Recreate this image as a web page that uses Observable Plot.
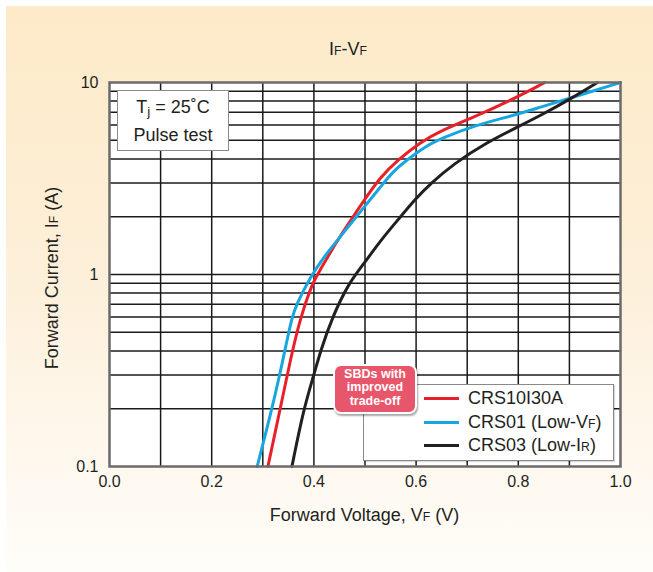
<!DOCTYPE html>
<html>
<head>
<meta charset="utf-8">
<script src="https://cdn.jsdelivr.net/npm/d3@7"></script>
<script src="https://cdn.jsdelivr.net/npm/@observablehq/plot@0.6"></script>
<style>
  html, body { margin: 0; padding: 0; background: #fff; }
  body { width: 653px; height: 572px; position: relative; overflow: hidden;
         font-family: "Liberation Sans", Arial, Helvetica, sans-serif; color: #231f20; }
  #bg { position: absolute; left: 6px; top: 6px; width: 647px; height: 566px;
        background: linear-gradient(to bottom, #fdeac8 0%, #fdefd8 45%, #fef8ee 80%, #fffdf9 100%); }
  #chart { position: absolute; left: 0; top: 0; }
  .abs { position: absolute; white-space: nowrap; }
  .sm { font-size: 0.68em; }
  #title { left: 0; width: 696px; top: 39px; text-align: center; font-size: 18px; }
  #xlabel { left: 0; width: 729px; top: 505px; text-align: center; font-size: 18px; }
  #ylabel { left: 52px; top: 278px; font-size: 18px; transform: translate(-50%, -50%) rotate(-90deg); }
  #tj { left: 117px; top: 90px; width: 110px; height: 56px; background: #fff; border: 1.5px solid #8a8a8a;
        font-size: 18px; text-align: center; line-height: 26px; padding-top: 3px; box-sizing: content-box; }
  #legend { left: 363px; top: 384px; width: 249px; height: 75px; background: #fff; border: 1.5px solid #8a8a8a;
            box-shadow: 1px 1px 1px rgba(0,0,0,0.15); }
  .lrow { position: absolute; left: 0; height: 24px; font-size: 18px; }
  .lrow .sw { position: absolute; left: 60px; top: 11px; width: 35px; height: 3px; }
  .lrow .tx { position: absolute; left: 104px; top: 0; line-height: 24px; }
  #badge { left: 333px; top: 364px; width: 80px; height: 44px; background: #e8566b; border: 2px solid #fff;
           border-radius: 8px; box-shadow: 1px 2px 2px rgba(0,0,0,0.35); color: #fff; font-weight: bold;
           font-size: 12.5px; line-height: 13.3px; text-align: center; padding-top: 2px; box-sizing: content-box; }
</style>
</head>
<body>
<div id="bg"></div>
<div id="chart"></div>
<div id="title" class="abs">I<span class="sm">F</span>-V<span class="sm">F</span></div>
<div id="xlabel" class="abs">Forward Voltage, V<span class="sm">F</span> (V)</div>
<div id="ylabel" class="abs">Forward Current, I<span class="sm">F</span> (A)</div>
<div id="tj" class="abs">T<span style="font-size:0.75em;position:relative;top:3px">j</span> = 25˚C<br>Pulse test</div>
<div id="legend" class="abs"></div>
<div id="badge" class="abs">SBDs with<br>improved<br>trade-off</div>
<script>
// ---- data ----
const seriesNames = ["CRS10I30A", "CRS01 (Low-VF)", "CRS03 (Low-IR)"];
const seriesColors = ["#e8202a", "#18a6e0", "#231f20"];

const redV = [0.310, 0.334, 0.348, 0.358, 0.374, 0.397, 0.408, 0.4455, 0.472, 0.498, 0.530, 0.563, 0.609, 0.648, 0.713, 0.778, 0.852];
const redI = [0.1, 0.2, 0.3, 0.4, 0.6, 0.9, 1.01, 1.5, 1.91, 2.43, 3.21, 3.93, 4.89, 5.6, 6.6, 7.9, 10];

const blueV = [0.289, 0.318, 0.333, 0.343, 0.357, 0.366, 0.393, 0.419, 0.4455, 0.472, 0.498, 0.530, 0.556, 0.589, 0.622, 0.648, 0.713, 0.791, 0.843, 0.909, 1.0];
const blueI = [0.1, 0.2, 0.3, 0.4, 0.6, 0.7, 0.97, 1.23, 1.5, 1.84, 2.24, 2.85, 3.48, 4.08, 4.70, 5.09, 5.97, 6.73, 7.44, 8.4, 10];

const blackV = [0.357, 0.380, 0.400, 0.413, 0.436, 0.468, 0.498, 0.530, 0.569, 0.599, 0.628, 0.674, 0.739, 0.798, 0.850, 0.902, 0.955];
const blackI = [0.1, 0.2, 0.3, 0.4, 0.6, 0.9, 1.14, 1.5, 1.99, 2.48, 2.97, 3.78, 4.89, 5.85, 6.87, 8.22, 10];

const xTicks = [0.0, 0.2, 0.4, 0.6, 0.8, 1.0];
const xGrid = [0.1, 0.2, 0.3, 0.4, 0.5, 0.6, 0.7, 0.8, 0.9];
const yTicks = [0.1, 1, 10];
const yGrid = [0.2, 0.3, 0.4, 0.5, 0.6, 0.7, 0.8, 0.9, 1, 2, 3, 4, 5, 6, 7, 8, 9];

// ---- build tables ----
const toRows = (V, I, s) => V.map((v, i) => ({V: v, I: I[i], s}));
const rows = [
  ...toRows(redV, redI, seriesNames[0]),
  ...toRows(blueV, blueI, seriesNames[1]),
  ...toRows(blackV, blackI, seriesNames[2])
];

const chart = Plot.plot({
  width: 653,
  height: 572,
  marginLeft: 109,
  marginRight: 33,
  marginTop: 82,
  marginBottom: 106,
  style: {background: "transparent", fontFamily: "'Liberation Sans', Arial, Helvetica, sans-serif", color: "#231f20"},
  x: {domain: [0, 1]},
  y: {type: "log", domain: [0.1, 10]},
  color: {domain: seriesNames, range: seriesColors},
  marks: [
    Plot.frame({fill: "#fff", stroke: null}),
    Plot.ruleX(xGrid, {stroke: "#1a1a1a", strokeWidth: 1.5}),
    Plot.ruleY(yGrid, {stroke: "#1a1a1a", strokeWidth: 1.5}),
    Plot.line(rows, {x: "V", y: "I", z: "s", stroke: "s", strokeWidth: 3, curve: "basis"}),
    Plot.frame({stroke: "#6b6b6b", strokeWidth: 2.5}),
    Plot.axisX(xTicks, {tickSize: 0, tickPadding: 9, fontSize: 16, label: null, tickFormat: d3.format(".1f")}),
    Plot.axisY(yTicks, {tickSize: 0, tickPadding: 11, fontSize: 16, label: null, tickFormat: d => String(d)})
  ]
});
chart.querySelectorAll("text").forEach(t => t.setAttribute("fill", "#231f20"));
document.getElementById("chart").appendChild(chart);

// legend
const leg = document.getElementById("legend");
const labelsHtml = ["CRS10I30A", "CRS01 (Low-V<span class='sm'>F</span>)", "CRS03 (Low-I<span class='sm'>R</span>)"];
const rowTops = [1, 24.5, 48];
seriesNames.forEach((n, i) => {
  const r = document.createElement("div");
  r.className = "lrow";
  r.style.top = rowTops[i] + "px";
  r.innerHTML = `<div class="sw" style="background:${seriesColors[i]}"></div><div class="tx">${labelsHtml[i]}</div>`;
  leg.appendChild(r);
});
</script>
</body>
</html>
